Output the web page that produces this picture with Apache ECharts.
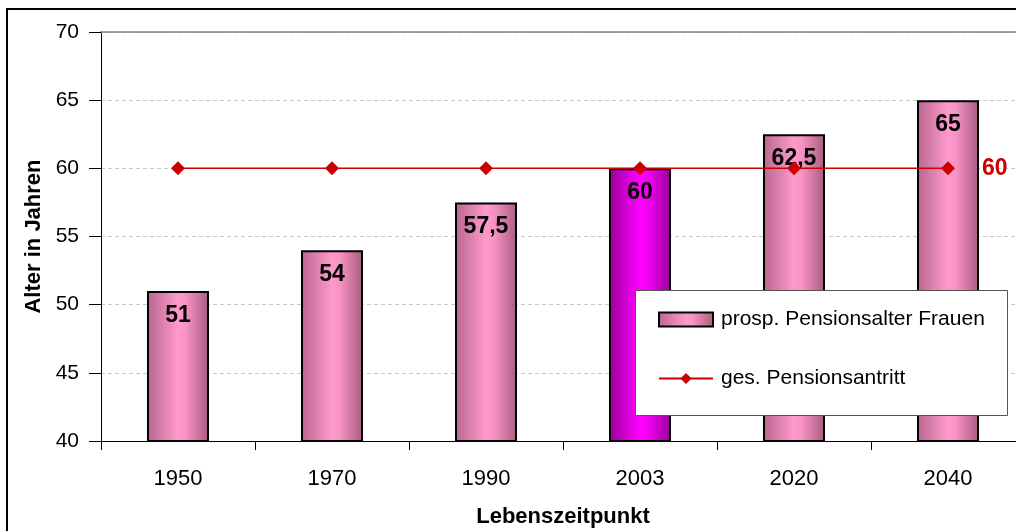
<!DOCTYPE html>
<html>
<head>
<meta charset="utf-8">
<script src="https://cdn.jsdelivr.net/npm/echarts@6/dist/echarts.min.js"></script>
<style>
  html, body { margin: 0; padding: 0; background: #fff; }
  #main { width: 1016px; height: 531px; }
</style>
</head>
<body>
<div id="main"></div>
<script>
// data
var years = ['1950', '1970', '1990', '2003', '2020', '2040'];
var pensionAge = [51, 54, 57.5, 60, 62.5, 65];
var actualAge = [60, 60, 60, 60, 60, 60];
var highlightIndex = 3;

var pinkGrad = new echarts.graphic.LinearGradient(0, 0, 1, 0, [
  { offset: 0, color: '#b8668f' },
  { offset: 0.5, color: '#ff99cc' },
  { offset: 0.62, color: '#f993c6' },
  { offset: 1, color: '#a85c80' }
]);
var magentaGrad = new echarts.graphic.LinearGradient(0, 0, 1, 0, [
  { offset: 0, color: '#990099' },
  { offset: 0.5, color: '#ff00ff' },
  { offset: 0.62, color: '#f800f8' },
  { offset: 1, color: '#990099' }
]);

var barData = pensionAge.map(function (v, i) {
  if (i === highlightIndex) {
    return { value: v, itemStyle: { color: magentaGrad } };
  }
  return v;
});

var font = 'Liberation Sans, Arial, sans-serif';

var option = {
  animation: false,
  textStyle: { fontFamily: font },
  graphic: [{
    type: 'rect',
    shape: { x: 7, y: 9, width: 1040, height: 560 },
    style: { fill: 'none', stroke: '#000', lineWidth: 2 },
    silent: true,
    z: 0
  }, {
    // legend frame
    type: 'rect',
    shape: { x: 635.5, y: 290.5, width: 372, height: 125 },
    style: { fill: '#fff', stroke: '#555', lineWidth: 1 },
    silent: true,
    z: 10
  }],
  grid: { left: 101, right: -9, top: 32, bottom: 90, outerBoundsMode: 'none', containLabel: false },
  legend: {
    orient: 'vertical',
    left: 658,
    top: 309,
    padding: 0,
    itemGap: 38,
    itemWidth: 54,
    itemHeight: 14,
    textStyle: { fontSize: 21, color: '#000', fontFamily: font, padding: [0, 0, 0, 3] },
    data: [
      { name: 'prosp. Pensionsalter Frauen', icon: 'rect' },
      { name: 'ges. Pensionsantritt' }
    ],
    z: 20
  },
  xAxis: [{
    type: 'category',
    data: years,
    name: 'Lebenszeitpunkt',
    nameLocation: 'middle',
    nameGap: 65,
    nameTextStyle: { fontSize: 22, fontWeight: 'bold', color: '#000' },
    axisLine: { lineStyle: { color: '#000', width: 1 } },
    axisTick: { show: true, length: 9, lineStyle: { color: '#000' } },
    axisLabel: { fontSize: 22, color: '#000', margin: 27 },
    splitLine: { show: false }
  }, {
    type: 'category',
    data: years,
    position: 'top',
    axisLine: { lineStyle: { color: '#808080', width: 1.5 } },
    axisTick: { show: false },
    axisLabel: { show: false }
  }],
  yAxis: {
    type: 'value',
    min: 40,
    max: 70,
    interval: 5,
    name: 'Alter in Jahren',
    nameLocation: 'middle',
    nameGap: 56,
    nameTextStyle: { fontSize: 22, fontWeight: 'bold', color: '#000' },
    axisLine: { show: true, lineStyle: { color: '#000', width: 1 } },
    axisTick: { show: true, length: 12, lineStyle: { color: '#000' } },
    axisLabel: { fontSize: 21, color: '#000', margin: 22 },
    splitLine: { show: true, lineStyle: { color: '#c8c8c8', type: [4, 3], width: 1 } }
  },
  series: [{
    name: 'prosp. Pensionsalter Frauen',
    type: 'bar',
    data: barData,
    barWidth: 62,
    itemStyle: { color: pinkGrad, borderColor: '#000', borderWidth: 2 },
    label: {
      show: true,
      position: 'insideTop',
      distance: 13,
      fontSize: 23,
      fontWeight: 'bold',
      color: '#000',
      formatter: function (p) { return String(p.value).replace('.', ','); }
    },
    z: 2
  }, {
    name: 'ges. Pensionsantritt',
    type: 'line',
    data: actualAge,
    symbol: 'diamond',
    symbolSize: 14,
    lineStyle: { color: '#cc0000', width: 1.5 },
    itemStyle: { color: '#cc0000' },
    label: {
      show: true,
      position: 'right',
      distance: 27,
      fontSize: 23,
      fontWeight: 'bold',
      color: '#cc0000',
      formatter: function (p) { return p.dataIndex === actualAge.length - 1 ? String(p.value) : ''; }
    },
    z: 3
  }]
};

echarts.init(document.getElementById('main')).setOption(option);
</script>
</body>
</html>
